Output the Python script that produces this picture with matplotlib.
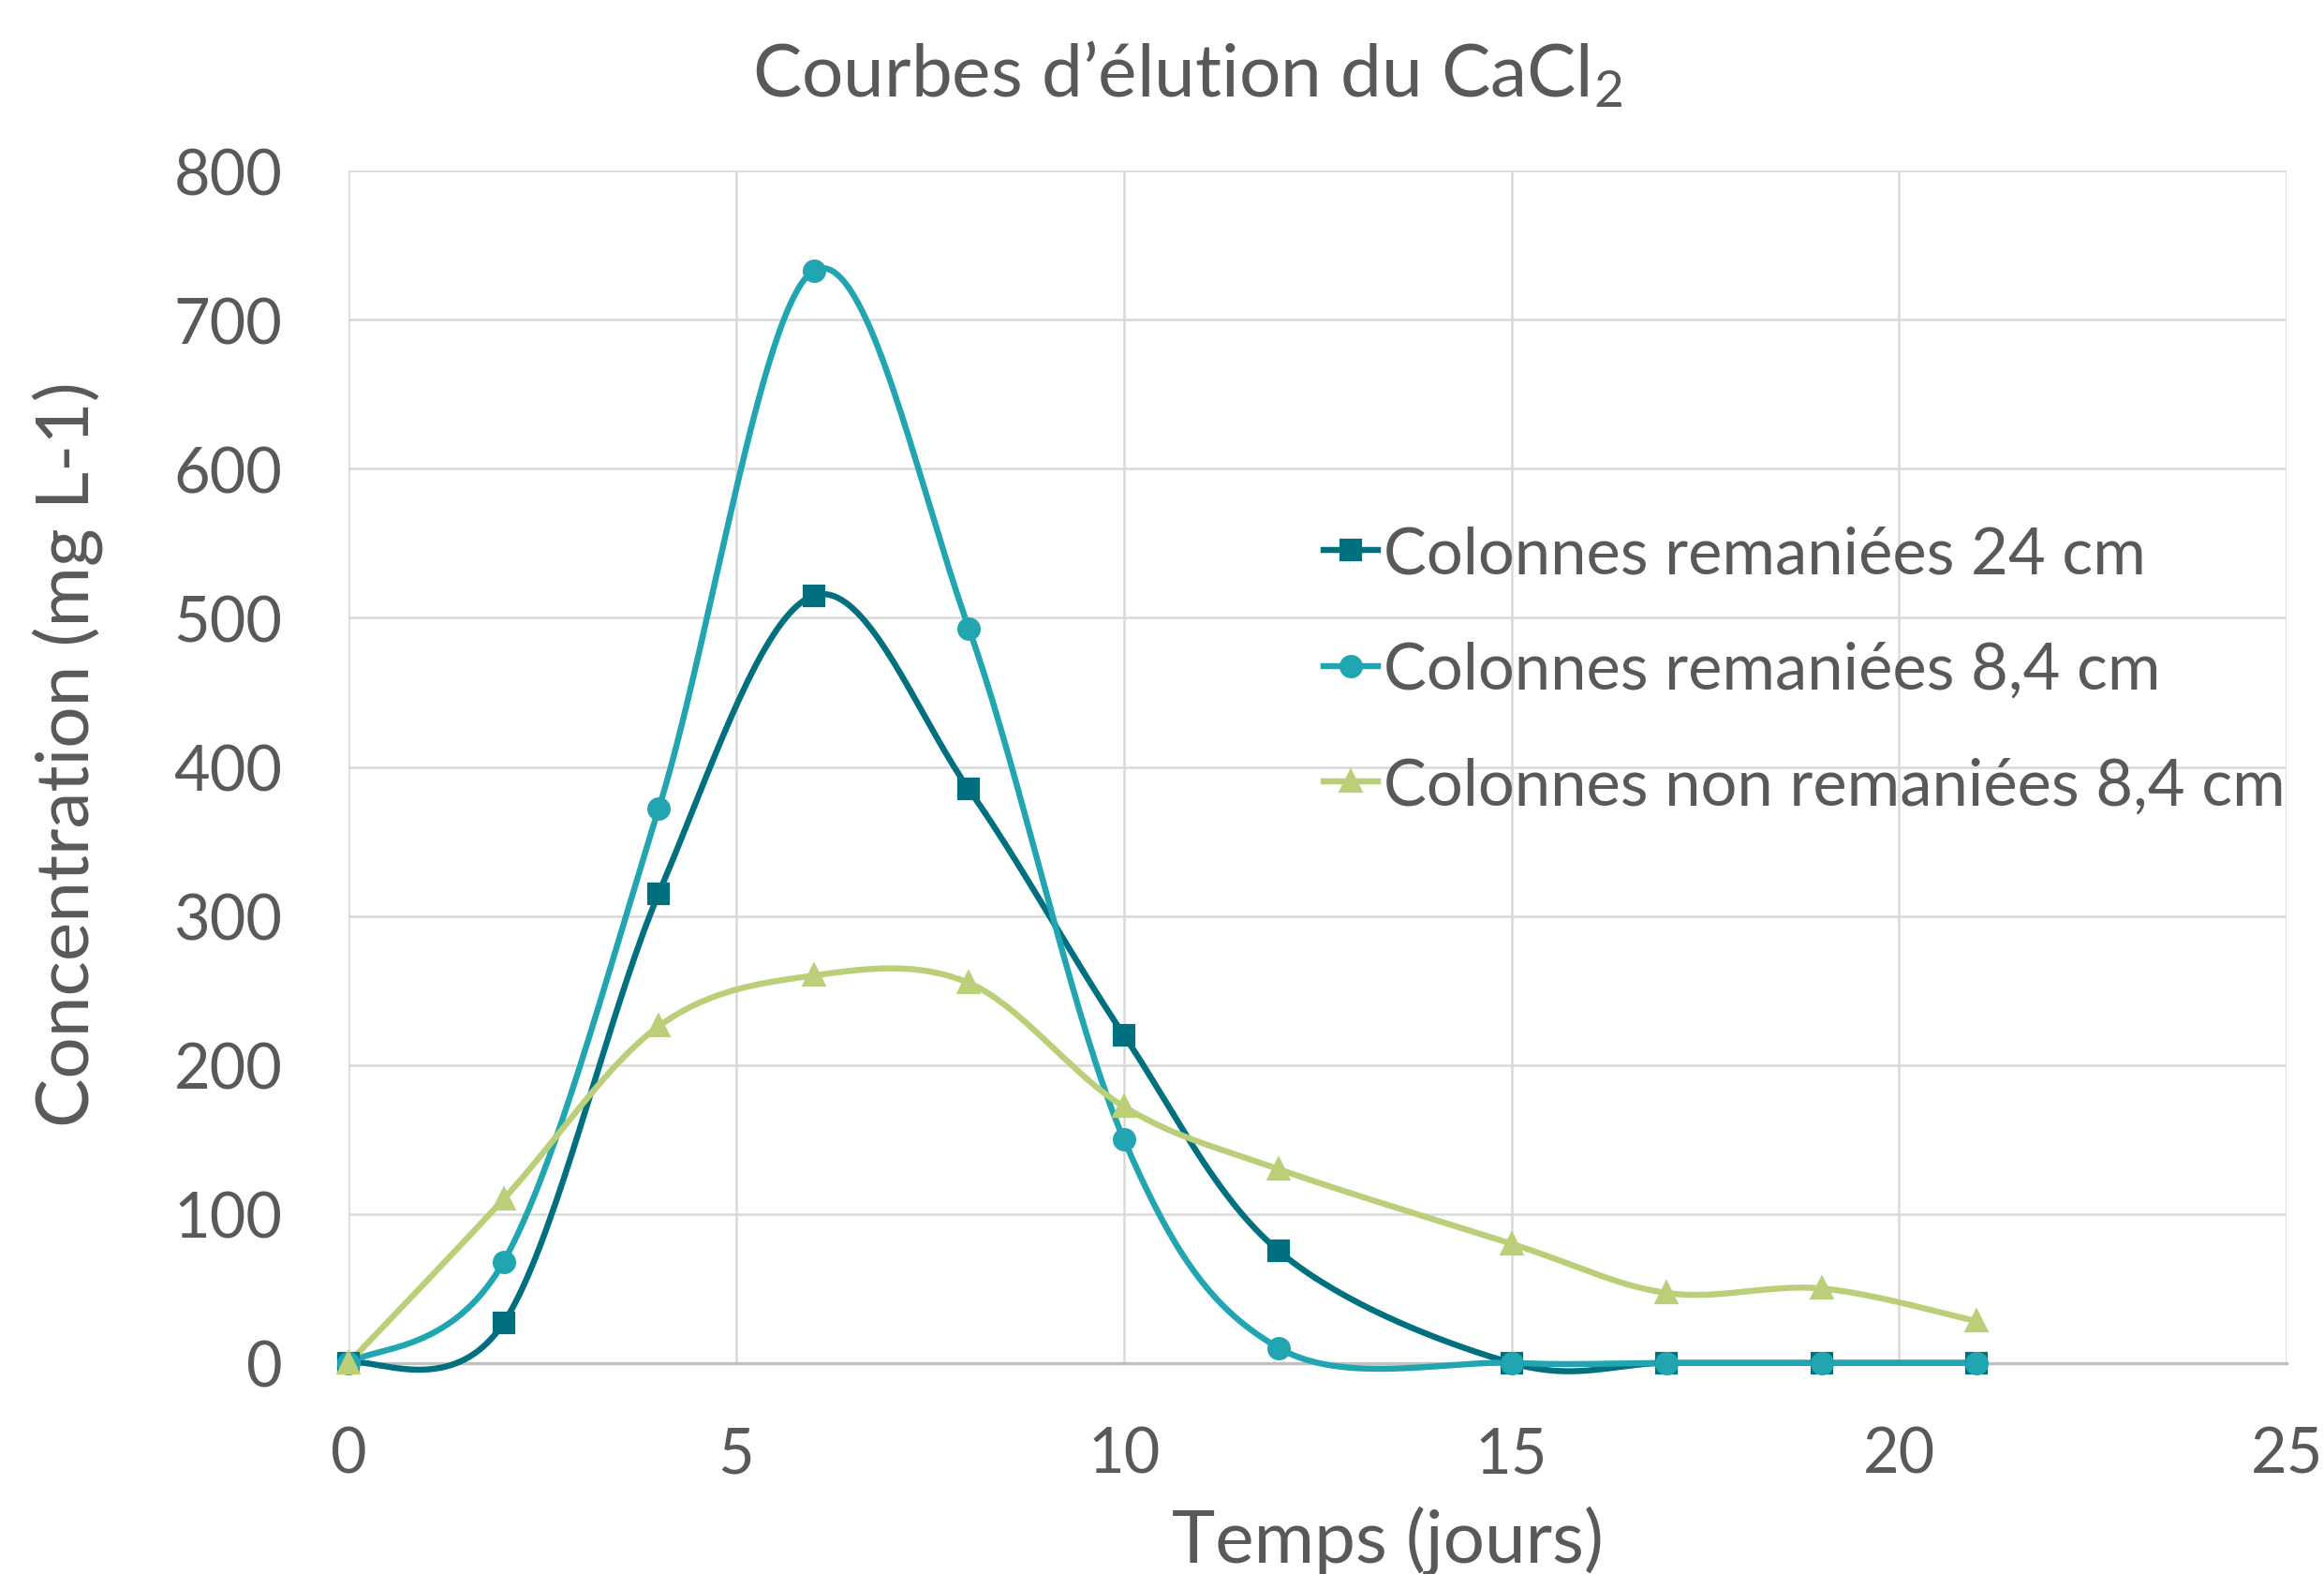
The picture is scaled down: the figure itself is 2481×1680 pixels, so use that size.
import numpy as np
import matplotlib
matplotlib.use("Agg")
import matplotlib.pyplot as plt
from matplotlib.lines import Line2D

# ---- data ----
days = [0, 2, 4, 6, 8, 10, 12, 15, 17, 19, 21]
remaniees_24 = [0, 27, 315, 515, 385, 220, 75, 0, 0, 0, 0]
remaniees_84 = [0, 68, 372, 733, 493, 150, 10, 0, 0, 0, 0]
non_remaniees_84 = [0, 110, 226, 260, 255, 172, 130, 80, 47, 50, 28]
series_labels = ["Colonnes remaniées 24 cm",
                 "Colonnes remaniées 8,4 cm",
                 "Colonnes non remaniées 8,4 cm"]
x_ticks = [0, 5, 10, 15, 20, 25]
y_ticks = [0, 100, 200, 300, 400, 500, 600, 700, 800]

colors = ["#00707E", "#21A6B1", "#BBCF79"]
markers = ["s", "o", "^"]
TXT = "#595959"
GRID = "#D9D9D9"

plt.rcParams['font.family'] = ['Lato', 'DejaVu Sans']
plt.rcParams['mathtext.fontset'] = 'custom'
plt.rcParams['mathtext.rm'] = 'Lato'


def smooth(x, y, n=40):
    """Excel-like smoothed line (Catmull-Rom Bezier)."""
    P = np.column_stack([x, y]).astype(float)
    m = len(P)
    out = [P[0]]
    t = np.linspace(0, 1, n)[1:]
    for i in range(m - 1):
        p0 = P[i - 1] if i > 0 else P[i]
        p1 = P[i]
        p2 = P[i + 1]
        p3 = P[i + 2] if i + 2 < m else P[i + 1]
        c1 = p1 + (p2 - p0) / 6.0
        c2 = p2 - (p3 - p1) / 6.0
        for tt in t:
            b = ((1 - tt) ** 3) * p1 + 3 * ((1 - tt) ** 2) * tt * c1 + 3 * (1 - tt) * tt ** 2 * c2 + tt ** 3 * p2
            out.append(b)
    out = np.array(out)
    return out[:, 0], out[:, 1]


fig = plt.figure(figsize=(8.27, 5.603), dpi=300)
ax = fig.add_axes([0.150, 0.134, 0.834, 0.757])

LW = 1.55
MS = 5.0
series = [remaniees_24, remaniees_84, non_remaniees_84]
for vals, c, mk in zip(series, colors, markers):
    sx, sy = smooth(days, vals)
    ax.plot(sx, sy, color=c, lw=LW, solid_capstyle='round', zorder=3, clip_on=False)
    ax.plot(days, vals, linestyle='none', marker=mk, color=c, ms=MS, zorder=4, clip_on=False)

ax.set_xlim(0, 25)
ax.set_ylim(0, 800)
ax.set_xticks(x_ticks)
ax.set_yticks(y_ticks)
ax.set_xticklabels([str(v) for v in x_ticks])
ax.set_yticklabels([str(v) for v in y_ticks])
ax.grid(True, color=GRID, lw=0.6, zorder=0)
ax.set_axisbelow(True)
for s in ['top', 'right', 'left']:
    ax.spines[s].set_visible(False)
ax.spines['bottom'].set_color("#BFBFBF")
ax.spines['bottom'].set_linewidth(0.8)
ax.tick_params(axis='both', length=0, labelsize=16, labelcolor=TXT)
ax.tick_params(axis='y', pad=17)
ax.tick_params(axis='x', pad=16)

handles = [Line2D([0], [0], color=c, lw=LW, marker=mk, ms=MS) for c, mk in zip(colors, markers)]
leg = ax.legend(handles, series_labels, loc='upper left', bbox_to_anchor=(0.503, 0.703),
                frameon=False, fontsize=16.5, labelcolor=TXT, handlelength=0.85,
                handletextpad=0.08, labelspacing=0.88, borderaxespad=0, borderpad=0)

fig.text(0.511, 0.953, "Courbes d’élution du CaCl$\\mathrm{_2}$", ha='center', va='center',
         fontsize=18.8, color=TXT)
fig.text(0.597, 0.008, "Temps (jours)", ha='center', va='baseline', fontsize=18.8, color=TXT)
fig.text(0.029, 0.521, "Concentration (mg L-1)", ha='center', va='center', rotation=90,
         fontsize=18.8, color=TXT)

fig.savefig("out.png", dpi=300, facecolor='white')
